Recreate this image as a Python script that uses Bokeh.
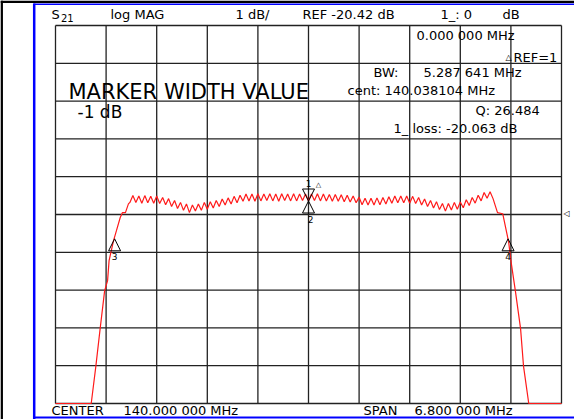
from bokeh.plotting import figure
from bokeh.models import Label, ColumnDataSource
from bokeh.embed import file_html
from bokeh.resources import INLINE

# ---------------- data ----------------
x_ticks = [136.60, 137.28, 137.96, 138.64, 139.32, 140.00, 140.68, 141.36, 142.04, 142.72, 143.40]
y_ticks = [-25.42, -24.42, -23.42, -22.42, -21.42, -20.42, -19.42, -18.42, -17.42, -16.42, -15.42]
center_mhz = 140.0
span_mhz = 6.8
ref_level = -20.42

skirt_left_f = [136.60, 137.08, 137.14, 137.20, 137.26, 137.30, 137.32, 137.38, 137.42, 137.47, 137.50, 137.54, 137.58]
skirt_left_db = [-25.42, -25.42, -24.47, -23.44, -22.44, -22.17, -21.64, -21.11, -20.84, -20.50, -20.37, -20.37, -20.14]

pass_f = [
    137.60, 137.64, 137.68, 137.72, 137.76, 137.80, 137.84, 137.88, 137.92, 137.96,
    138.00, 138.04, 138.08, 138.12, 138.16, 138.20, 138.24, 138.28, 138.32, 138.36,
    138.40, 138.44, 138.48, 138.52, 138.56, 138.60, 138.64, 138.68, 138.72, 138.76,
    138.80, 138.84, 138.88, 138.92, 138.96, 139.00, 139.04, 139.08, 139.12, 139.16,
    139.20, 139.24, 139.28, 139.32, 139.36, 139.40, 139.44, 139.48, 139.52, 139.56,
    139.60, 139.64, 139.68, 139.72, 139.76, 139.80, 139.84, 139.88, 139.92, 139.96,
    140.00, 140.04, 140.08, 140.12, 140.16, 140.20, 140.24, 140.28, 140.32, 140.36,
    140.40, 140.44, 140.48, 140.52, 140.56, 140.60, 140.64, 140.68, 140.72, 140.76,
    140.80, 140.84, 140.88, 140.92, 140.96, 141.00, 141.04, 141.08, 141.12, 141.16,
    141.20, 141.24, 141.28, 141.32, 141.36, 141.40, 141.44, 141.48, 141.52, 141.56,
    141.60, 141.64, 141.68, 141.72, 141.76, 141.80, 141.84, 141.88, 141.92, 141.96,
    142.00, 142.04, 142.08, 142.12, 142.16, 142.20, 142.24, 142.28, 142.32, 142.36,
    142.40, 142.44, 142.48,
]
pass_db = [
    -20.10, -19.92, -20.10, -19.93, -20.12, -19.92, -20.11, -19.94, -20.12, -19.93,
    -20.13, -19.97, -20.16, -20.00, -20.21, -20.05, -20.26, -20.10, -20.31, -20.14,
    -20.37, -20.17, -20.33, -20.14, -20.31, -20.10, -20.28, -20.08, -20.25, -20.05,
    -20.21, -20.01, -20.17, -19.98, -20.14, -19.94, -20.11, -19.91, -20.07, -19.88,
    -20.06, -19.88, -20.07, -19.87, -20.06, -19.88, -20.05, -19.87, -20.06, -19.88,
    -20.07, -19.87, -20.05, -19.88, -20.06, -19.87, -20.06, -19.88, -20.05, -19.88,
    -20.06, -19.88, -20.05, -19.87, -20.06, -19.88, -20.06, -19.89, -20.07, -19.89,
    -20.07, -19.90, -20.08, -19.91, -20.09, -19.93, -20.11, -19.96, -20.16, -19.99,
    -20.17, -19.99, -20.17, -19.98, -20.16, -19.97, -20.14, -19.95, -20.12, -19.93,
    -20.11, -19.93, -20.11, -19.93, -20.12, -19.94, -20.13, -19.97, -20.17, -20.01,
    -20.21, -20.05, -20.25, -20.08, -20.29, -20.13, -20.33, -20.13, -20.30, -20.10,
    -20.28, -20.09, -20.24, -20.03, -20.18, -19.97, -20.12, -19.91, -20.06, -19.84,
    -19.99, -19.82, -20.00,
]

skirt_right_f = [142.54, 142.61, 142.69, 142.72, 142.78, 142.85, 142.89, 142.96, 143.40]
skirt_right_db = [-20.37, -20.40, -21.15, -21.64, -22.44, -23.44, -24.44, -25.42, -25.42]

marker_f = [140.0, 140.0, 137.394284, 142.681925]
marker_db = [-20.063, -20.063, -21.063, -21.063]
marker_lbl = ["1", "2", "3", "4"]
marker_dir = [-1, 1, 1, 1]          # -1: triangle above pointing down, 1: below pointing up

bw_mhz = 5.287641
cent_mhz = 140.038104
q_value = 26.484
loss_db = -20.063
width_db = -1

# ---------------- layout (pixels of the picture) ----------------
X_MIN, X_MAX = x_ticks[0], x_ticks[-1]
Y_MIN, Y_MAX = y_ticks[0], y_ticks[-1]
FRAME_LEFT, FRAME_TOP, FRAME_W, FRAME_H = 55, 25, 506, 378
W, H = 574, 419


def dx(px):
    return X_MIN + (px - FRAME_LEFT) / FRAME_W * (X_MAX - X_MIN)


def dy(py):
    return Y_MAX - (py - FRAME_TOP) / FRAME_H * (Y_MAX - Y_MIN)


p = figure(width=W, height=H, x_range=(dx(0), dx(W)), y_range=(dy(H), dy(0)),
           x_axis_type=None, y_axis_type=None, toolbar_location=None,
           output_backend="svg", min_border=0)
p.background_fill_color = "white"
p.border_fill_color = "white"
p.outline_line_color = None

# screen border lines (black window edge, blue panel edge)
border_lines = [  # x0, y0, x1, y1 (picture pixels), colour, width
    (1.2, 0, 1.2, H, "black", 2.5),
    (0, 1.2, W + 20, 1.2, "black", 2.5),
    (33.7, 3, 33.7, H + 20, "#0000ff", 2.5),
    (33, 3.8, W + 20, 3.8, "#0000ff", 1.5),
    (33, 417, W + 20, 417, "#0000ff", 2),
]
p.segment(x0=[dx(b[0]) for b in border_lines], y0=[dy(b[1]) for b in border_lines],
          x1=[dx(b[2]) for b in border_lines], y1=[dy(b[3]) for b in border_lines],
          line_color=[b[4] for b in border_lines], line_width=[b[5] for b in border_lines])

# graticule (10 x 10 divisions)
n = len(x_ticks)
p.segment(x0=x_ticks, y0=[Y_MIN] * n, x1=x_ticks, y1=[Y_MAX] * n,
          line_color="#222222", line_width=1.3)
m = len(y_ticks)
p.segment(x0=[X_MIN] * m, y0=y_ticks, x1=[X_MAX] * m, y1=y_ticks,
          line_color="#222222", line_width=1.3)

trace_f = skirt_left_f + pass_f + skirt_right_f
trace_db = skirt_left_db + pass_db + skirt_right_db
p.line(x="f", y="db", source=ColumnDataSource(dict(f=trace_f, db=trace_db)),
       line_color="#ff1a1a", line_width=1.2)

# marker triangles
hw = 6 * (X_MAX - X_MIN) / FRAME_W
hh = 12 * (Y_MAX - Y_MIN) / FRAME_H
px_dy = (Y_MAX - Y_MIN) / FRAME_H
xs, ys = [], []
for f, d, s in zip(marker_f, marker_db, marker_dir):
    xs.append([f, f - hw, f + hw])
    ys.append([d, d - s * hh, d - s * hh])
p.patches(xs, ys, fill_color=None, line_color="black", line_width=1)
for f, d, s, t in zip(marker_f, marker_db, marker_dir, marker_lbl):
    p.add_layout(Label(x=f + (0.03 if t == "2" else 0.0), y=d - s * (hh + 6 * px_dy), text=t,
                       text_font="DejaVu Sans", text_font_size="9px",
                       text_align="center", text_baseline="middle", text_color="black"))


def add_text(px, py, text, size=13, align="left"):
    p.add_layout(Label(x=dx(px), y=dy(py), text=text, text_font="DejaVu Sans",
                       text_font_size=f"{size}px", text_align=align,
                       text_baseline="middle", text_color="black"))


# header
add_text(51, 14, "S")
add_text(60.5, 17, "21", 10)
add_text(110, 14, "log MAG")
add_text(235, 14, "1 dB/")
add_text(302, 14, f"REF {ref_level:.2f} dB")
add_text(440, 14, "1_: 0")
add_text(502, 14, "dB")

# marker readout
add_text(416, 35, "0.000 000 MHz")
add_text(508, 57, "\u25b3", 8, "center")
add_text(513, 57, "REF=1")
add_text(373, 72, "BW:")
add_text(423, 72, "5.287 641 MHz")
add_text(347, 90, f"cent: {cent_mhz:.6f} MHz")
add_text(475, 110, f"Q: {q_value:.3f}")
add_text(393, 128, f"1_ loss: {loss_db:.3f} dB")

add_text(68, 91, "MARKER WIDTH VALUE", 21)
add_text(77, 111, f"{width_db} dB", 17)

add_text(318, 184, "\u25b3", 7, "center")
add_text(566, 213, "\u25c1", 8, "center")

# footer
add_text(51, 410, "CENTER")
add_text(123, 410, f"{center_mhz:.3f} 000 MHz")
add_text(363, 410, "SPAN")
add_text(414, 410, f"{span_mhz:.3f} 000 MHz")

open("out.html", "w").write(file_html(p, INLINE))
